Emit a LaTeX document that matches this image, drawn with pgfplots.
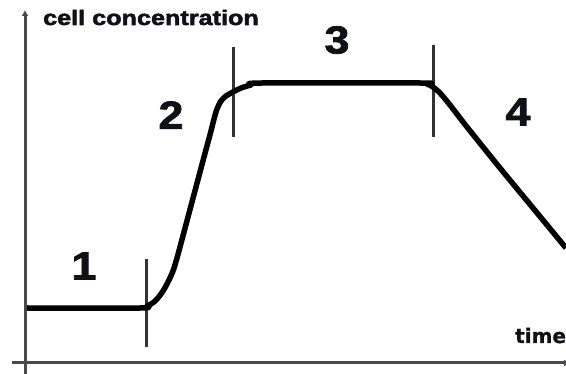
\documentclass[border=0pt]{standalone}
\usepackage{fontspec}
\usepackage{pgfplots}
\pgfplotsset{compat=1.18}
\usetikzlibrary{arrows.meta}
\newfontfamily\heavy{Liberation Sans Bold}[FakeStretch=1.2,FakeBold=2.5]
\newfontfamily\heavyd{Liberation Sans Bold}[FakeStretch=1.15,FakeBold=2]
\newfontfamily\dvb{DejaVu Sans Bold}[FakeBold=1]
\definecolor{axisgray}{HTML}{4A4A4A}
\definecolor{markgray}{HTML}{333333}
\definecolor{txt}{HTML}{101018}
\begin{document}
\begin{tikzpicture}
\begin{axis}[at={(0,0)},anchor=south west,scale only axis,
  width=566pt,height=374pt,xmin=0,xmax=566,ymin=0,ymax=374,
  y dir=reverse,hide axis,clip=false]
% axes
\addplot[axisgray,line width=3pt,-{Latex[length=6pt,width=7pt]}] coordinates {(25,374) (25,10)};
\addplot[axisgray,line width=3pt,-{Latex[length=6pt,width=7pt]}] coordinates {(12,363) (570,363)};
% phase markers
\addplot[markgray,line width=3pt] coordinates {(146,259) (146,347)};
\addplot[markgray,line width=3pt] coordinates {(233,47) (233,137)};
\addplot[markgray,line width=3pt] coordinates {(433,45) (433,137)};
% growth curve
\addplot[black,line width=5.5pt,line join=round,smooth,tension=0.5] coordinates {
(27,308) (140,308) (147,306) (154,302) (161,294) (167,284) (173,271) (177,258)
(180,247) (188,217) (196,187) (204,157) (211,131) (214,119) (217,109) (221,101)
(226,96) (233,92) (241,88) (251,85) (262,83) (420,83) (427,84) (433,87) (440,93)
(450,105) (467,127) (500,168) (533,208) (566,248)};
% labels
\node[anchor=base west,txt,inner sep=0pt] at (axis cs:43,25) {\fontsize{21}{21}\heavy cell concentration};
\node[anchor=base west,txt,inner sep=0pt] at (axis cs:515,343) {\fontsize{20}{20}\dvb time};
\node[inner sep=0pt,txt] at (axis cs:84,266) {\fontsize{39}{39}\heavyd 1};
\node[inner sep=0pt,txt] at (axis cs:171,115) {\fontsize{39}{39}\heavyd 2};
\node[inner sep=0pt,txt] at (axis cs:337,40) {\fontsize{39}{39}\heavyd 3};
\node[inner sep=0pt,txt] at (axis cs:518,112) {\fontsize{39}{39}\heavyd 4};
\end{axis}
\pgfresetboundingbox
\useasboundingbox (0,0) rectangle (566pt,374pt);
\end{tikzpicture}
\end{document}
